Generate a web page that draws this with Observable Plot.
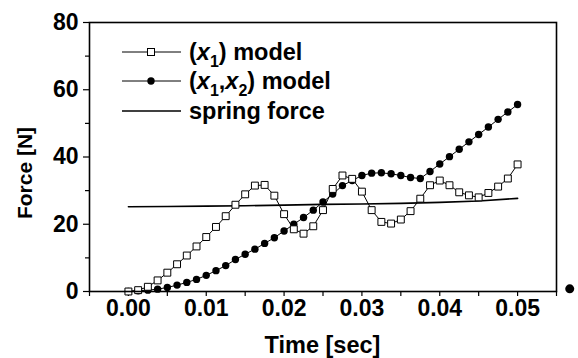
<!DOCTYPE html>
<html><head><meta charset="utf-8">
<script src="https://cdn.jsdelivr.net/npm/d3@7"></script>
<script src="https://cdn.jsdelivr.net/npm/@observablehq/plot@0.6"></script>
<style>body{margin:0;background:#fff}</style>
</head><body><div id="chart"></div>
<script>
// ---- data ----
const time = [0, 0.00125, 0.0025, 0.00375, 0.005, 0.00625, 0.0075, 0.00875, 0.01, 0.01125,
  0.0125, 0.01375, 0.015, 0.01625, 0.0175, 0.01875, 0.02, 0.02125, 0.0225, 0.02375,
  0.025, 0.02625, 0.0275, 0.02875, 0.03, 0.03125, 0.0325, 0.03375, 0.035, 0.03625,
  0.0375, 0.03875, 0.04, 0.04125, 0.0425, 0.04375, 0.045, 0.04625, 0.0475, 0.04875, 0.05];
const modelX1 = [0, 0.4, 1.4, 3.3, 5.6, 8.1, 10.7, 13.4, 16.2, 19.2,
  22.4, 25.8, 28.9, 31.5, 31.7, 28.5, 23.0, 18.5, 17.2, 19.4,
  24.2, 30.5, 34.5, 33.5, 29.7, 24.2, 20.7, 20.2, 21.4, 23.9,
  27.6, 31.6, 33.0, 31.6, 29.5, 28.6, 28.0, 29.3, 31.2, 33.6, 37.8];
const modelX1X2 = [0, 0.2, 0.4, 0.7, 1.2, 1.9, 2.7, 3.6, 4.8, 6.2,
  7.7, 9.5, 11.1, 12.6, 14.3, 16.0, 18.0, 20.0, 22.0, 24.2,
  26.6, 29.0, 31.5, 33.0, 34.5, 35.2, 35.3, 35.0, 34.5, 33.9,
  33.6, 35.7, 37.9, 40.1, 42.3, 44.5, 46.7, 48.9, 51.2, 53.4, 55.6];
const springTime = [0, 0.005, 0.01, 0.015, 0.02, 0.025, 0.03, 0.035, 0.04, 0.045, 0.05];
const springForce = [25.2, 25.3, 25.4, 25.5, 25.7, 25.9, 26.0, 26.2, 26.5, 26.9, 27.7];
const strayTime = [0.0567];
const strayForce = [0.8];
const xTicks = [0, 0.01, 0.02, 0.03, 0.04, 0.05];
const xMinor = [-0.005, 0.005, 0.015, 0.025, 0.035, 0.045, 0.055];
const yTicks = [0, 20, 40, 60, 80];
const yMinor = [10, 30, 50, 70];
const xTitle = "Time [sec]";
const yTitle = "Force [N]";
const legendLabels = [
  [["(", ""], ["x", "i"], ["1", "sub"], [") model", ""]],
  [["(", ""], ["x", "i"], ["1", "sub"], [",", ""], ["x", "i"], ["2", "sub"], [") model", ""]],
  [["spring force", ""]]
];
const legendMarkers = ["square", "circle", "none"];

// ---- build ----
const FONT = "'Liberation Sans', Arial, sans-serif";
const seriesA = time.map((t, i) => ({t, v: modelX1[i]}));
const seriesB = time.map((t, i) => ({t, v: modelX1X2[i]}));
const spring = springTime.map((t, i) => ({t, v: springForce[i]}));
const stray = strayTime.map((t, i) => ({t, v: strayForce[i]}));

function annotations(index, scales, values, dims) {
  const g = d3.create("svg:g").attr("font-family", FONT).attr("font-weight", "bold").attr("fill", "black");
  const L = dims.marginLeft, T = dims.marginTop;
  const rowY = [30, 59, 89];
  legendLabels.forEach((parts, k) => {
    const y = T + rowY[k];
    g.append("line").attr("x1", L + 33).attr("x2", L + 92).attr("y1", y).attr("y2", y)
      .attr("stroke", "black").attr("stroke-width", legendMarkers[k] === "none" ? 1.6 : 1);
    if (legendMarkers[k] === "square") {
      g.append("rect").attr("x", L + 62 - 3.5).attr("y", y - 3.5).attr("width", 7).attr("height", 7)
        .attr("fill", "white").attr("stroke", "black").attr("stroke-width", 1);
    } else if (legendMarkers[k] === "circle") {
      g.append("circle").attr("cx", L + 62).attr("cy", y).attr("r", 3.7).attr("fill", "black");
    }
    const txt = g.append("text").attr("x", L + 100).attr("y", y).attr("dy", "0.35em")
      .attr("font-size", 23.5).attr("text-anchor", "start");
    let shifted = false;
    parts.forEach(([s, style]) => {
      const ts = txt.append("tspan").text(s);
      if (style === "i") ts.attr("font-style", "italic");
      if (style === "sub") { ts.attr("font-size", 16).attr("dy", 7); shifted = true; }
      else if (shifted) { ts.attr("dy", -7); shifted = false; }
    });
  });
  const W = dims.width - dims.marginLeft - dims.marginRight;
  g.append("text").attr("x", L + W / 2).attr("y", dims.height - 5).attr("text-anchor", "middle")
    .attr("font-size", 23.5).text(xTitle);
  g.append("text").attr("transform", `translate(32,173) rotate(-90)`).attr("text-anchor", "middle")
    .attr("font-size", 21).text(yTitle);
  return g.node();
}

const chart = Plot.plot({
  width: 578, height: 358,
  marginLeft: 89, marginRight: 22, marginTop: 22, marginBottom: 67,
  style: {fontFamily: FONT, background: "white", color: "black"},
  x: {domain: [-0.005, 0.055]},
  y: {domain: [0, 80]},
  marks: [
    Plot.axisY(yTicks, {tickSize: 6, tickPadding: 5, fontSize: 23, fontWeight: "bold", label: null, strokeWidth: 1.2}),
    Plot.axisY(yMinor, {tickSize: 4, text: null, label: null, strokeWidth: 1.2}),
    Plot.axisX(xTicks, {tickSize: 5, tickPadding: 3, fontSize: 23, fontWeight: "bold", label: null, tickFormat: d3.format(".2f"), strokeWidth: 1.2}),
    Plot.axisX(xMinor, {tickSize: 5, text: null, label: null, strokeWidth: 1.2}),
    Plot.line(spring, {x: "t", y: "v", stroke: "black", strokeWidth: 1.6}),
    Plot.line(seriesB, {x: "t", y: "v", stroke: "black", strokeWidth: 1}),
    Plot.dot(seriesB, {x: "t", y: "v", r: 3.7, fill: "black", stroke: null}),
    Plot.line(seriesA, {x: "t", y: "v", stroke: "black", strokeWidth: 1}),
    Plot.dot(seriesA, {x: "t", y: "v", symbol: "square", r: 3.9, fill: "white", stroke: "black", strokeWidth: 1}),
    Plot.dot(stray, {x: "t", y: "v", r: 4.5, fill: "black", stroke: null}),
    Plot.frame({stroke: "black", strokeWidth: 1.6}),
    annotations
  ]
});
document.getElementById("chart").appendChild(chart);
</script>
</body></html>
